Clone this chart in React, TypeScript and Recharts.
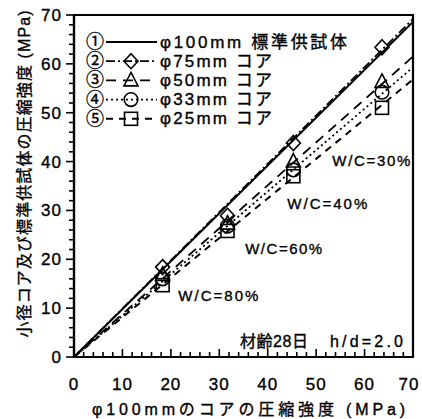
import React from 'react';
import {
  ComposedChart,
  Line,
  Scatter,
  XAxis,
  YAxis,
  ReferenceArea,
  ReferenceDot,
  Label,
} from 'recharts';

// ---- data ----
const wcLabels = ['W/C=80%', 'W/C=60%', 'W/C=40%', 'W/C=30%'];
const core100 = [18.3, 31.7, 45.3, 63.6];
const core75 = [18.4, 28.9, 43.8, 63.4];
const core50 = [16.8, 27.3, 40.0, 56.3];
const core33 = [16.0, 26.8, 38.3, 54.2];
const core25 = [14.7, 25.8, 37.0, 51.0];
const seriesNames = ['φ100mm 標準供試体', 'φ75mm コア', 'φ50mm コア', 'φ33mm コア', 'φ25mm コア'];
const seriesMarks = ['①', '②', '③', '④', '⑤'];
const fitStart = [0, 0, 0, 0, 0];
const fitAt70 = [68.6, 69.2, 61.5, 59.3, 56.8];
const fitX = [0, 70];
const axisTicks = [0, 2, 4, 6, 8, 10, 12, 14, 16, 18, 20, 22, 24, 26, 28, 30, 32, 34, 36, 38, 40, 42, 44, 46, 48, 50, 52, 54, 56, 58, 60, 62, 64, 66, 68, 70];
const wcLabelX = [29.8, 43.3, 52.3, 61.4];
const wcLabelY = [12.5, 22.3, 31.5, 40.3];
const noteTexts = ['材齢28日', 'h/d=2.0'];
const noteX = [41.3, 60.4];
const noteY = [3.1, 3.1];
const xTitle = 'φ100mmのコアの圧縮強度 (MPa)';
const yTitle = '小径コア及び標準供試体の圧縮強度 (MPa)';

const FONT = "'Liberation Sans', Arial, 'Noto Sans CJK JP', sans-serif";
const TXT = { fill: '#000', stroke: '#000', strokeWidth: 0.35 } as const;

const pointSets = [core75, core50, core33, core25];
const dashes = [undefined, '9 3 2 3', '10 7', '2 3', '7 6'];
const widths = [2, 1.8, 1.8, 1.8, 2];
const legendWidths = [187, 112, 112, 112, 112];
const wcWidths = [80, 77, 80, 78];
const noteWidths = [68, 73];

const fitData = fitAt70.map((end, i) => [
  { x: fitX[0], y: fitStart[i] },
  { x: fitX[1], y: end },
]);
const scatterData = pointSets.map((ys) => core100.map((x, j) => ({ x, y: ys[j] })));

// ---- markers ----
const Diamond = ({ cx, cy }: any) => (
  <polygon points={`${cx},${cy - 7.5} ${cx + 7},${cy} ${cx},${cy + 7.5} ${cx - 7},${cy}`} fill="none" stroke="#000" strokeWidth={1.6} />
);
const Triangle = ({ cx, cy }: any) => (
  <polygon points={`${cx},${cy - 8} ${cx + 7},${cy + 5.5} ${cx - 7},${cy + 5.5}`} fill="none" stroke="#000" strokeWidth={1.6} />
);
const Circ = ({ cx, cy }: any) => <circle cx={cx} cy={cy} r={6.8} fill="none" stroke="#000" strokeWidth={1.6} />;
const Sq = ({ cx, cy }: any) => <rect x={cx - 6.5} y={cy - 6.5} width={13} height={13} fill="none" stroke="#000" strokeWidth={1.6} />;
const shapes = [Diamond, Triangle, Circ, Sq];

// ---- fitted text ----
const FitText = ({ x, y, text, width, size }: any) => (
  <text
    x={x}
    y={y}
    textAnchor="middle"
    dominantBaseline="central"
    fontSize={size}
    fontFamily={FONT}
    textLength={width}
    lengthAdjust="spacing"
    {...TXT}
  >
    {text}
  </text>
);

const dotLabel = (text: string, width: number, size: number) => (props: any) => {
  const vb = props.viewBox || {};
  const cx = (vb.x || 0) + (vb.width || 0) / 2;
  const cy = (vb.y || 0) + (vb.height || 0) / 2;
  return <FitText x={cx} y={cy} text={text} width={width} size={size} />;
};

// ---- ticks ----
const XTick = ({ x, y, payload }: any) => {
  const v = payload.value;
  const major = v % 10 === 0;
  return (
    <g>
      <line x1={x} x2={x} y1={y} y2={y - (major ? 8 : 5)} stroke="#000" strokeWidth={1.6} />
      {major && (
        <text x={Math.min(x, 409)} y={y + 33} textAnchor="middle" fontSize={17} letterSpacing={1} fontFamily={FONT} {...TXT}>
          {v}
        </text>
      )}
    </g>
  );
};
const YTick = ({ x, y, payload }: any) => {
  const v = payload.value;
  const major = v % 10 === 0;
  return (
    <g>
      <line x1={x} x2={x - (major ? 8 : 5)} y1={y} y2={y} stroke="#000" strokeWidth={1.6} />
      {major && (
        <text x={x - 12} y={y + 6} textAnchor="end" fontSize={17} letterSpacing={1} fontFamily={FONT} {...TXT}>
          {v}
        </text>
      )}
    </g>
  );
};

// ---- legend (overlay) ----
const LegendBox = () => (
  <svg width={260} height={100} style={{ display: 'block', overflow: 'visible' }}>
    {seriesNames.map((name, i) => {
      const cy = 10 + i * 19.2;
      const S = i > 0 ? shapes[i - 1] : null;
      return (
        <g key={name}>
          <text x={8} y={cy} textAnchor="middle" dominantBaseline="central" fontSize={18} fontFamily={FONT} {...TXT}>
            {seriesMarks[i]}
          </text>
          <line x1={19} x2={70} y1={cy} y2={cy} stroke="#000" strokeWidth={widths[i]} strokeDasharray={dashes[i]} />
          {S && <S cx={44} cy={cy} />}
          <text
            x={73}
            y={cy}
            dominantBaseline="central"
            fontSize={17}
            fontFamily={FONT}
            textLength={legendWidths[i]}
            lengthAdjust="spacing"
            {...TXT}
          >
            {name}
          </text>
        </g>
      );
    })}
  </svg>
);

const YTitle = ({ viewBox }: any) => {
  const x = 24;
  const y = viewBox.y + viewBox.height / 2 - 12;
  return (
    <text
      x={x}
      y={y}
      transform={`rotate(-90, ${x}, ${y})`}
      textAnchor="middle"
      dominantBaseline="central"
      fontSize={16}
      fontFamily={FONT}
      textLength={327}
      lengthAdjust="spacing"
      {...TXT}
    >
      {yTitle}
    </text>
  );
};

const XTitle = ({ viewBox }: any) => {
  const x = viewBox.x + viewBox.width / 2 + 5;
  const y = 409;
  return <FitText x={x} y={y} text={xTitle} width={313} size={16} />;
};

export default function App() {
  return (
    <div style={{ position: 'absolute', left: 0, top: 0, width: 422, height: 419, background: '#fff' }}>
      <ComposedChart width={422} height={419} margin={{ top: 15, right: 9, bottom: 22, left: 34 }}>
        <XAxis
          type="number"
          dataKey="x"
          domain={[0, 70]}
          ticks={axisTicks}
          interval={0}
          tick={<XTick />}
          tickSize={0}
          tickMargin={0}
          tickLine={false}
          axisLine={{ stroke: '#000', strokeWidth: 2.2 }}
          height={40}
          allowDataOverflow
        >
          <Label content={<XTitle />} />
        </XAxis>
        <YAxis
          type="number"
          dataKey="y"
          domain={[0, 70]}
          ticks={axisTicks}
          interval={0}
          tick={<YTick />}
          tickSize={0}
          tickMargin={0}
          tickLine={false}
          axisLine={{ stroke: '#000', strokeWidth: 2.2 }}
          width={40}
          allowDataOverflow
        >
          <Label content={<YTitle />} />
        </YAxis>
        <ReferenceArea x1={0} x2={70} y1={0} y2={70} fill="none" stroke="#000" strokeWidth={2.2} />
        {fitData.map((d, i) => (
          <Line
            key={'fit' + i}
            data={d}
            dataKey="y"
            type="linear"
            stroke="#000"
            strokeWidth={widths[i]}
            strokeDasharray={dashes[i]}
            dot={false}
            activeDot={false}
            isAnimationActive={false}
            legendType="none"
          />
        ))}
        {scatterData.map((d, i) => (
          <Scatter key={'pts' + i} data={d} dataKey="y" shape={shapes[i]} isAnimationActive={false} legendType="none" />
        ))}
        {wcLabels.map((t, i) => (
          <ReferenceDot
            key={t}
            x={wcLabelX[i]}
            y={wcLabelY[i]}
            r={0}
            fill="none"
            stroke="none"
            label={dotLabel(t, wcWidths[i], 15)}
          />
        ))}
        {noteTexts.map((t, i) => (
          <ReferenceDot
            key={t}
            x={noteX[i]}
            y={noteY[i]}
            r={0}
            fill="none"
            stroke="none"
            label={dotLabel(t, noteWidths[i], 16)}
          />
        ))}
      </ComposedChart>
      <div style={{ position: 'absolute', left: 87, top: 32 }}>
        <LegendBox />
      </div>
    </div>
  );
}
